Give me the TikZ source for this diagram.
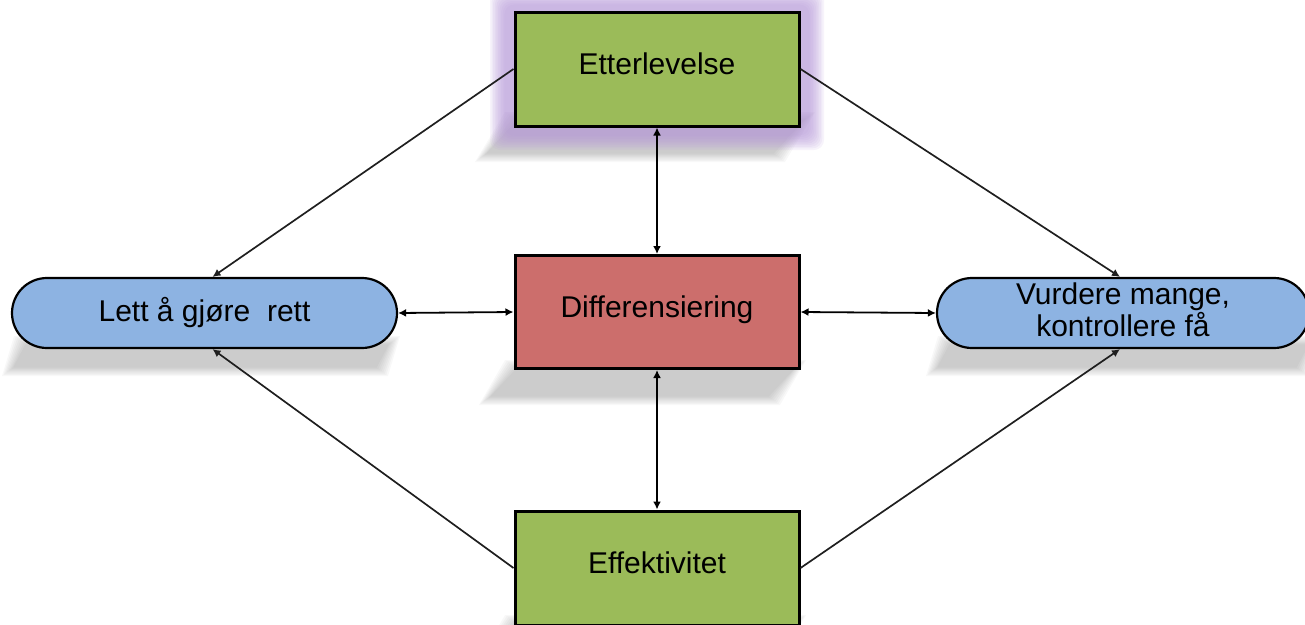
\documentclass[tikz,border=0pt]{standalone}
\usepackage{fontspec}
\setmainfont{Liberation Sans}
\usetikzlibrary{arrows.meta,shapes.misc}
\definecolor{boxgreen}{RGB}{155,187,89}
\definecolor{boxred}{RGB}{204,110,108}
\definecolor{pillblue}{RGB}{141,179,226}
\definecolor{glowpurple}{RGB}{180,150,215}
\newcommand\blurfill[6]{%
  \foreach \k in {0,...,9}{%
    \fill[#1,opacity=#2,rounded corners=10pt] ({#3+\k*1.6},{#4+\k*1.6}) rectangle ({#5-\k*1.6},{#6-\k*1.6});}}
\newcommand\slantshadow[5]{% x-left, x-right (top edge), y-top, y-bottom, leftward shift
  \foreach \k in {0,...,7}{%
    \fill[black,opacity=0.028] ({#1+\k*1.6},{#3+\k*1.2}) -- ({#2-\k*1.6},{#3+\k*1.2})
      -- ({#2-#5-\k*1.6},{#4-\k*1.2}) -- ({#1-#5+\k*1.6},{#4-\k*1.2}) -- cycle;}}
\begin{document}
\begin{tikzpicture}[x=1pt,y=-1pt,
  font=\fontsize{30}{32}\selectfont,
  sq/.style={draw=black,line width=3pt,rectangle,minimum width=284pt,minimum height=114pt,inner sep=0pt,text height=22pt,text depth=12pt},
  pill/.style={draw=black,line width=2.2pt,rounded rectangle,fill=pillblue,minimum height=70pt,inner sep=0pt,align=center},
  conn/.style={line width=1.7pt,draw=black!88,-{Latex[length=8pt,width=8pt]}},
  dconn/.style={line width=1.8pt,draw=black,{Latex[length=8pt,width=8pt]}-{Latex[length=8pt,width=8pt]}}]
\useasboundingbox (0,0) rectangle (1305,624);
\clip (0,0) rectangle (1305,624);
% shadows and glow
\slantshadow{505}{815}{112}{162}{30}
\blurfill{glowpurple}{0.11}{490}{-10}{824}{150}
\slantshadow{505}{806}{360}{405}{26}
\slantshadow{14}{400}{336}{376}{12}
\slantshadow{938}{1320}{336}{376}{12}
\slantshadow{505}{806}{615}{660}{26}
% nodes
\node[sq,fill=boxgreen] (top) at (657,69) {Etterlevelse};
\node[sq,fill=boxred,minimum height=113pt] (mid) at (657,312) {Differensiering};
\node[sq,fill=boxgreen] (bot) at (657,568) {Effektivitet};
\node[pill,minimum width=385pt,text height=22pt,text depth=5pt] (lp) at (204.5,313) {Lett å gjøre\ \ rett};
\node[pill,minimum width=372pt] (rp) at (1123,313) {Vurdere mange,\\kontrollere få\rule[-7pt]{0pt}{7pt}};
% connectors
\draw[conn] (top.west) -- ([xshift=8pt]lp.north);
\draw[conn] (top.east) -- ([xshift=-3pt]rp.north);
\draw[conn] (bot.west) -- ([xshift=8pt]lp.south);
\draw[conn] (bot.east) -- ([xshift=-3pt]rp.south);
\draw[dconn] (top.south) -- (mid.north);
\draw[dconn] (mid.south) -- (bot.north);
\draw[dconn] (lp.east) -- (mid.west);
\draw[dconn] (mid.east) -- (rp.west);
\end{tikzpicture}
\end{document}
